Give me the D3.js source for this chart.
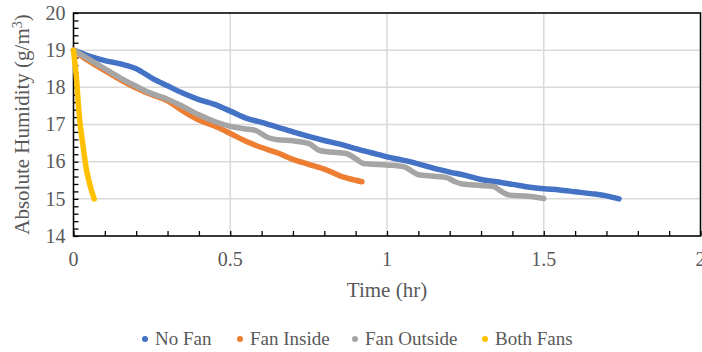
<!DOCTYPE html>
<html>
<head>
<meta charset="utf-8">
<script src="https://cdn.jsdelivr.net/npm/d3@7"></script>
<style>
	body { margin: 0; background: #fff; }
	svg { display: block; }
	svg text { font-family: 'Liberation Serif', 'Tinos', 'Times New Roman', 'DejaVu Serif', serif; }
	.tick-label { fill: #595959; font-size: 20px; }
	.axis-title { fill: #595959; font-size: 21px; }
	.legend-text { fill: #595959; font-size: 19px; }
</style>
</head>
<body>
<svg class="chart-container" width="702" height="352"></svg>
<script>
// values
const seriesNames = ['No Fan', 'Fan Inside', 'Fan Outside', 'Both Fans'];
const seriesColors = ['#4472c4', '#ed7d31', '#a5a5a5', '#ffc000'];

const noFanTime = [0, 0.05, 0.1, 0.15, 0.2, 0.25, 0.3, 0.35, 0.4, 0.45, 0.5, 0.55, 0.6, 0.65, 0.7, 0.75, 0.8, 0.85, 0.9, 0.95, 1.0, 1.05, 1.1, 1.15, 1.2, 1.25, 1.3, 1.35, 1.4, 1.45, 1.5, 1.55, 1.6, 1.65, 1.7, 1.74];
const noFanHum = [19.0, 18.84, 18.72, 18.63, 18.5, 18.25, 18.04, 17.84, 17.67, 17.54, 17.36, 17.17, 17.06, 16.93, 16.8, 16.68, 16.57, 16.47, 16.35, 16.24, 16.13, 16.04, 15.94, 15.82, 15.72, 15.63, 15.52, 15.46, 15.39, 15.32, 15.27, 15.24, 15.19, 15.14, 15.08, 15.0];

const fanInsideTime = [0, 0.05, 0.1, 0.15, 0.2, 0.25, 0.3, 0.35, 0.4, 0.45, 0.5, 0.55, 0.6, 0.65, 0.7, 0.75, 0.8, 0.85, 0.9, 0.92];
const fanInsideHum = [19.0, 18.7, 18.45, 18.2, 17.98, 17.8, 17.64, 17.36, 17.12, 16.96, 16.76, 16.55, 16.38, 16.24, 16.06, 15.93, 15.8, 15.62, 15.5, 15.46];

const fanOutsideTime = [0, 0.05, 0.1, 0.15, 0.2, 0.25, 0.3, 0.35, 0.4, 0.45, 0.5, 0.55, 0.58, 0.62, 0.65, 0.7, 0.75, 0.785, 0.82, 0.87, 0.9, 0.925, 1.0, 1.055, 1.08, 1.1, 1.15, 1.19, 1.215, 1.24, 1.3, 1.34, 1.365, 1.39, 1.45, 1.5];
const fanOutsideHum = [19.0, 18.75, 18.5, 18.25, 18.03, 17.83, 17.68, 17.48, 17.26, 17.08, 16.95, 16.88, 16.84, 16.65, 16.59, 16.56, 16.49, 16.3, 16.26, 16.22, 16.08, 15.95, 15.91, 15.86, 15.74, 15.65, 15.61, 15.57, 15.47, 15.4, 15.36, 15.33, 15.2, 15.1, 15.07, 15.01];

const bothFansTime = [0, 0.005, 0.01, 0.015, 0.02, 0.03, 0.04, 0.05, 0.06, 0.066];
const bothFansHum = [19.0, 18.6, 18.2, 17.6, 17.1, 16.45, 15.85, 15.45, 15.15, 15.0];

const xTicks = [0, 0.5, 1, 1.5, 2];
const yTicks = [14, 15, 16, 17, 18, 19, 20];

// margin conventions
const margin = { top: 13, right: 1.5, bottom: 116, left: 73.5 };
const width = 702 - margin.left - margin.right;
const height = 352 - margin.top - margin.bottom;

const x = d3.scaleLinear().domain([0, 2]).range([0, width]);
const y = d3.scaleLinear().domain([14, 20]).range([height, 0]);

const svg = d3.select('.chart-container');
const plot = svg.append('g').attr('transform', 'translate(' + margin.left + ',' + margin.top + ')');

// gridlines
plot.append('g')
	.selectAll('line')
	.data(yTicks)
	.enter()
	.append('line')
	.attr('x1', 0).attr('x2', width)
	.attr('y1', d => y(d)).attr('y2', d => y(d))
	.attr('stroke', '#d9d9d9').attr('stroke-width', 1.5);

plot.append('g')
	.selectAll('line')
	.data(xTicks)
	.enter()
	.append('line')
	.attr('x1', d => x(d)).attr('x2', d => x(d))
	.attr('y1', 0).attr('y2', height)
	.attr('stroke', '#d9d9d9').attr('stroke-width', 1.5);

// minor ticks, pointing inward
plot.append('g')
	.attr('transform', 'translate(0,' + height + ')')
	.call(d3.axisTop(x).tickValues(d3.range(0, 2.001, 0.1)).tickSize(5).tickFormat(''))
	.call(g => g.select('.domain').remove())
	.selectAll('line').attr('stroke', '#000').attr('stroke-width', 1.3);

plot.append('g')
	.call(d3.axisRight(y).tickValues(d3.range(14, 20.001, 0.2)).tickSize(5).tickFormat(''))
	.call(g => g.select('.domain').remove())
	.selectAll('line').attr('stroke', '#000').attr('stroke-width', 1.3);

// plot border
plot.append('rect')
	.attr('width', width).attr('height', height)
	.attr('fill', 'none').attr('stroke', '#000').attr('stroke-width', 1.5);

// tick labels
plot.append('g')
	.selectAll('text')
	.data(xTicks)
	.enter()
	.append('text')
	.attr('class', 'tick-label')
	.attr('x', d => x(d))
	.attr('y', height + 30)
	.attr('text-anchor', 'middle')
	.text(d => d);

plot.append('g')
	.selectAll('text')
	.data(yTicks)
	.enter()
	.append('text')
	.attr('class', 'tick-label')
	.attr('x', -8)
	.attr('y', d => y(d))
	.attr('dy', '0.34em')
	.attr('text-anchor', 'end')
	.text(d => d);

// series
const series = [
	{ t: noFanTime, v: noFanHum },
	{ t: fanInsideTime, v: fanInsideHum },
	{ t: fanOutsideTime, v: fanOutsideHum },
	{ t: bothFansTime, v: bothFansHum }
];

const line = d3.line()
	.x(d => x(d[0]))
	.y(d => y(d[1]))
	.curve(d3.curveMonotoneX);

series.forEach((s, i) => {
	plot.append('path')
		.datum(s.t.map((t, j) => [t, s.v[j]]))
		.attr('d', line)
		.attr('fill', 'none')
		.attr('stroke', seriesColors[i])
		.attr('stroke-width', 5.5)
		.attr('stroke-linecap', 'round')
		.attr('stroke-linejoin', 'round');
});

// axis titles
svg.append('text')
	.attr('class', 'axis-title')
	.attr('x', margin.left + width / 2)
	.attr('y', 297)
	.attr('text-anchor', 'middle')
	.text('Time (hr)');

const yTitle = svg.append('text')
	.attr('class', 'axis-title')
	.attr('transform', 'translate(29,' + (margin.top + height / 2) + ') rotate(-90)')
	.attr('text-anchor', 'middle');
yTitle.append('tspan').text('Absolute Humidity (g/m');
yTitle.append('tspan').attr('font-size', '14px').attr('dy', '-7').text('3');
yTitle.append('tspan').attr('dy', '7').text(')');

// legend
const legendX = [145, 240, 355, 485];
const legend = svg.append('g')
	.selectAll('g')
	.data(seriesNames)
	.enter()
	.append('g')
	.attr('transform', (d, i) => 'translate(' + legendX[i] + ',339)');

legend.append('circle')
	.attr('r', 3)
	.attr('fill', (d, i) => seriesColors[i]);

legend.append('text')
	.attr('class', 'legend-text')
	.attr('x', 10)
	.attr('dy', '0.34em')
	.text(d => d);
</script>
</body>
</html>
